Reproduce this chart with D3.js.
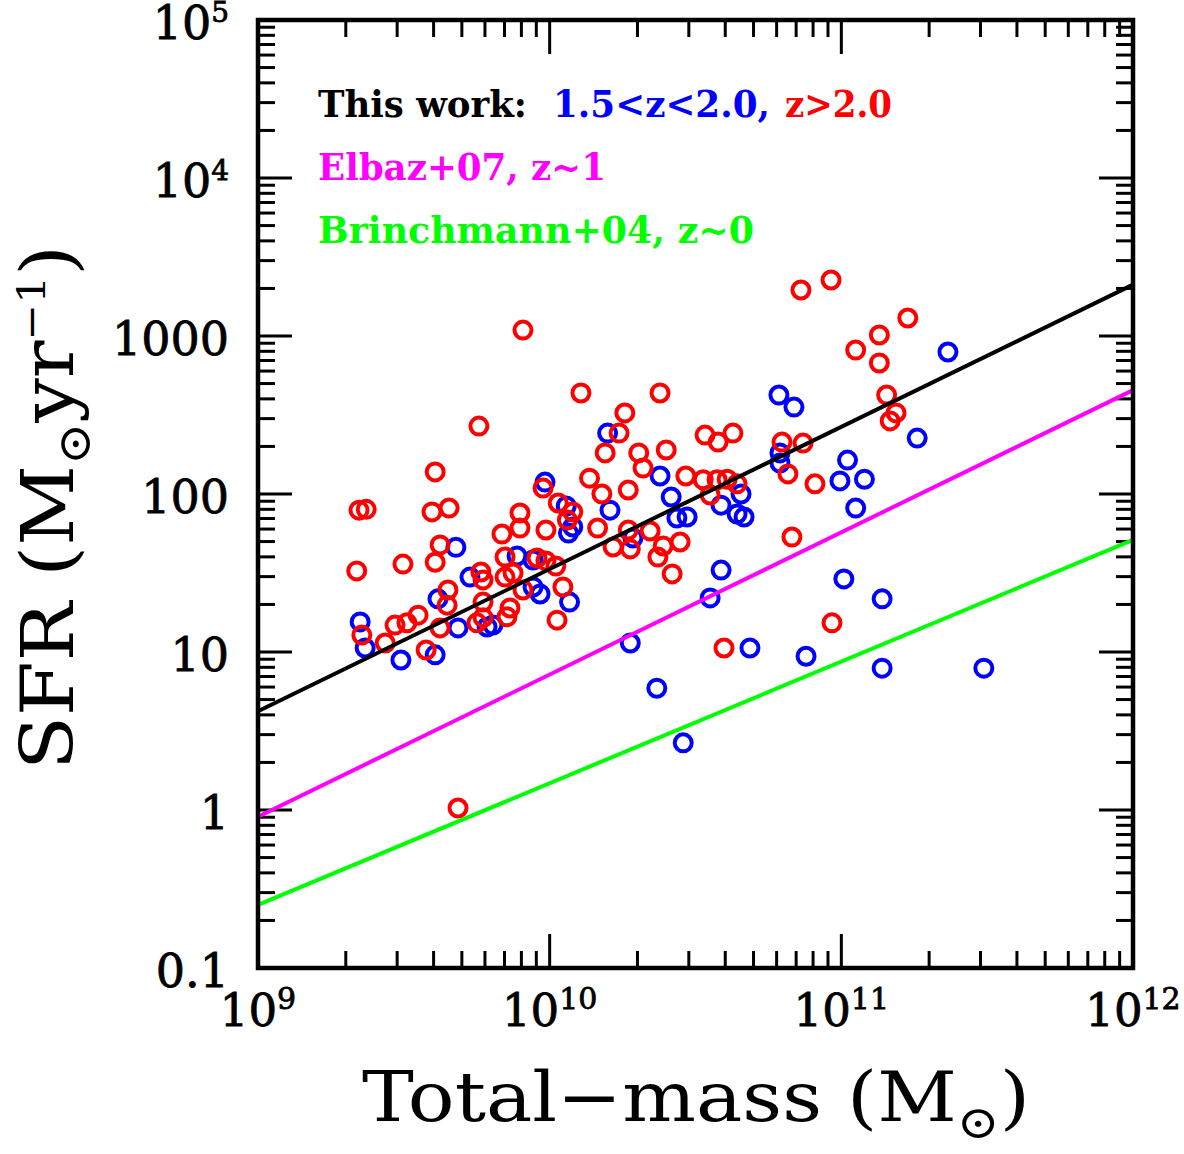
<!DOCTYPE html>
<html>
<head>
<meta charset="utf-8">
<script src="https://cdn.jsdelivr.net/npm/d3@7/dist/d3.min.js"></script>
<style>
  body { margin: 0; background: #fff; }
  text { font-family: "DejaVu Serif", serif; }
</style>
</head>
<body>
<svg id="chart" width="1184" height="1154"></svg>
<script>
// total mass in units of 1e9 Msun, SFR in Msun/yr
// 1.5 < z < 2.0
var blueMass = [2.24, 2.33, 3.09, 4.05, 4.14, 4.85, 4.77, 5.33, 6.10, 6.39,
    7.73, 8.77, 9.27, 8.77, 9.64, 11.4, 12.0, 11.6, 11.7, 15.8,
    16.1, 19.3, 23.9, 26.1, 27.3, 29.6, 38.7, 45.3, 43.9, 46.4,
    38.7, 35.5, 18.9, 23.3, 28.7, 48.6, 61.1, 68.8, 61.6, 61.6,
    105, 98.9, 120, 112, 102, 138, 75.7, 138, 308, 182, 232];
var blueSfr = [15.5, 10.6, 8.9, 9.6, 21.7, 14.2, 46, 29.8, 14.4, 14.8,
    40.5, 38.2, 23.3, 25.8, 119, 84, 61.8, 56.6, 20.7, 243,
    79, 52.7, 130, 95.7, 70.5, 71.5, 85, 100, 74.7, 71.5,
    33, 22, 11.4, 5.9, 2.66, 10.6, 423, 355, 182, 157,
    164, 121, 124, 81.5, 29, 21.7, 9.4, 7.9, 7.9, 226, 792];

// z > 2.0
var redMass = [2.18, 2.22, 2.35, 3.14, 4.05, 4.21, 3.95, 4.52, 4.05, 5.72,
    8.10, 7.91, 7.91, 6.86, 9.71, 9.49, 5.81, 5.91, 7.03, 7.49,
    7.03, 8.10, 9.05, 9.71, 10.5, 4.48, 4.45, 5.91, 7.31, 7.14,
    5.91, 5.63, 4.21, 3.54, 3.24, 2.95, 2.27, 2.73, 3.77, 10.6,
    11.1, 10.7, 12.0, 11.5, 14.6, 13.7, 15.1, 12.8, 23.9, 18.1,
    17.3, 15.5, 20.2, 25.1, 20.9, 29.3, 18.6, 18.6, 16.5, 18.9,
    22.1, 24.5, 28.0, 23.5, 26.3, 33.6, 37.5, 40.6, 43.9, 35.5,
    34.1, 37.8, 42.5, 62.6, 73.9, 65.6, 81.2, 67.7, 92.9, 39.6,
    4.85, 72.7, 92.2, 169, 135, 112, 135, 143, 154, 147];
var redSfr = [32.6, 79, 80, 36, 37, 47.6, 77, 81.5, 138, 269,
    1090, 75.8, 60.9, 55.8, 59.2, 109, 32.1, 28.6, 39.9, 31.6,
    29.8, 24.7, 39.4, 37.7, 35, 24.7, 19.8, 20.7, 19, 16.7,
    16.5, 15.3, 14.2, 17.1, 15.3, 14.8, 12.8, 11.4, 10.3, 15.9,
    25.8, 87.7, 76.9, 68.5, 60.9, 126, 100, 436, 436, 326,
    243, 182, 182, 190, 146, 130, 106, 59.2, 46.2, 44.9,
    58.3, 46.9, 49.7, 39.9, 31.2, 123, 123, 124, 116, 98.6,
    236, 213, 243, 213, 210, 134, 116, 53.4, 15.3, 10.6,
    1.03, 1955, 2262, 1300, 1015, 815, 675, 423, 326, 290];

// SFR = norm * (M / pivot)^slope
var relNorm = [33.5, 7.2, 8.7];
var relPivot = [1e10, 1e10, 1e11];
var relSlope = [0.9, 0.9, 0.77];

var yTicks = [0.1, 1, 10, 100, 1000, 1e4, 1e5];
var yTickText = ["0.1", "1", "10", "100", "1000", "10", "10"];
var yTickSup = ["", "", "", "", "", "4", "5"];
var xTicks = [1e9, 1e10, 1e11, 1e12];
var xTickSup = ["9", "10", "11", "12"];

var legendText = ["This work:", "1.5<z<2.0,", "z>2.0", "Elbaz+07, z~1", "Brinchmann+04, z~0"];

var svg = d3.select("#chart");

var pLeft = 258, pRight = 1133, pTop = 20, pBottom = 968;

var x = d3.scaleLog().domain([1e9, 1e12]).range([pLeft, pRight]);
var y = d3.scaleLog().domain([0.1, 1e5]).range([pBottom, pTop]);

function isDecade(v) {
    var l = Math.log10(v);
    return Math.abs(l - Math.round(l)) < 1e-6;
}

// tick marks on all four sides
var ticks = svg.append("g")
    .attr("stroke", "#000")
    .attr("stroke-width", 3);

x.ticks().forEach(function (t) {
    if (t <= 1e9 * 1.001 || t >= 1e12 * 0.999) return;
    var len = isDecade(t) ? 34 : 17;
    ticks.append("line")
        .attr("x1", x(t)).attr("x2", x(t))
        .attr("y1", pBottom).attr("y2", pBottom - len);
    ticks.append("line")
        .attr("x1", x(t)).attr("x2", x(t))
        .attr("y1", pTop).attr("y2", pTop + len);
});

y.ticks().forEach(function (t) {
    if (t <= 0.1 * 1.001 || t >= 1e5 * 0.999) return;
    var len = isDecade(t) ? 34 : 17;
    ticks.append("line")
        .attr("x1", pLeft).attr("x2", pLeft + len)
        .attr("y1", y(t)).attr("y2", y(t));
    ticks.append("line")
        .attr("x1", pRight).attr("x2", pRight - len)
        .attr("y1", y(t)).attr("y2", y(t));
});

// data points
function dots(mass, sfr, color) {
    svg.append("g")
        .selectAll("circle")
        .data(mass)
        .enter()
        .append("circle")
        .attr("cx", function (d) { return x(d * 1e9); })
        .attr("cy", function (d, i) { return y(sfr[i]); })
        .attr("r", 8.5)
        .style("fill", "none")
        .style("stroke", color)
        .style("stroke-width", 4);
}
dots(blueMass, blueSfr, "#0000ff");
dots(redMass, redSfr, "#ff0000");

// relations
var relColor = ["#000000", "#ff00ff", "#00ff00"];
var line = d3.line()
    .x(function (d) { return x(d[0]); })
    .y(function (d) { return y(d[1]); });

relNorm.forEach(function (n, i) {
    var pts = x.domain().map(function (m) {
        return [m, n * Math.pow(m / relPivot[i], relSlope[i])];
    });
    svg.append("path")
        .attr("d", line(pts))
        .style("fill", "none")
        .style("stroke", relColor[i])
        .style("stroke-width", 4);
});

// frame
svg.append("rect")
    .attr("x", pLeft).attr("y", pTop)
    .attr("width", pRight - pLeft).attr("height", pBottom - pTop)
    .style("fill", "none")
    .style("stroke", "#000")
    .style("stroke-width", 4.5);

// y tick labels
yTicks.forEach(function (t, i) {
    var txt = svg.append("text")
        .attr("x", 229)
        .attr("y", y(t) + 19)
        .attr("text-anchor", "end")
        .style("font-size", "46px")
        .style("stroke", "#000")
        .style("stroke-width", 0.8);
    txt.append("tspan").text(yTickText[i]);
    if (yTickSup[i]) {
        txt.append("tspan")
            .attr("dy", -17)
            .style("font-size", "28px")
            .text(yTickSup[i]);
    }
});

// x tick labels
xTicks.forEach(function (t, i) {
    var txt = svg.append("text")
        .attr("x", x(t))
        .attr("y", 1026)
        .attr("text-anchor", "middle")
        .style("font-size", "45px")
        .style("stroke", "#000")
        .style("stroke-width", 0.8);
    txt.append("tspan").text("10");
    txt.append("tspan")
        .attr("dy", -17)
        .style("font-size", "30px")
        .text(xTickSup[i]);
});

// axis titles
var xt = svg.append("text")
    .attr("x", 362)
    .attr("y", 1121)
    .attr("textLength", 668)
    .attr("lengthAdjust", "spacingAndGlyphs")
    .style("font-size", "70px");
xt.append("tspan").text("Total\u2212mass (M");
xt.append("tspan").attr("dy", 17).style("font-size", "46px").text("\u2299");
xt.append("tspan").attr("dy", -17).text(")");

var yt = svg.append("text")
    .attr("transform", "translate(73,770) rotate(-90)")
    .attr("textLength", 525)
    .attr("lengthAdjust", "spacingAndGlyphs")
    .style("font-size", "72px");
yt.append("tspan").text("SFR (M");
yt.append("tspan").attr("dy", 17).style("font-size", "46px").text("\u2299");
yt.append("tspan").attr("dy", -17).text("yr");
yt.append("tspan").attr("dy", -28).style("font-size", "40px").text("\u22121");
yt.append("tspan").attr("dy", 28).text(")");

// legend
var legX = [318, 553, 785, 318, 318];
var legY = [117, 117, 117, 180, 243];
var legW = [209, 217, 107, 288, 436];
var legColor = ["#000", "#0000ff", "#ff0000", "#ff00ff", "#00ff00"];
legendText.forEach(function (s, i) {
    svg.append("text")
        .attr("x", legX[i])
        .attr("y", legY[i])
        .attr("textLength", legW[i])
        .attr("lengthAdjust", "spacingAndGlyphs")
        .style("font-size", "37px")
        .style("font-weight", "bold")
        .style("fill", legColor[i])
        .text(s);
});
</script>
</body>
</html>
